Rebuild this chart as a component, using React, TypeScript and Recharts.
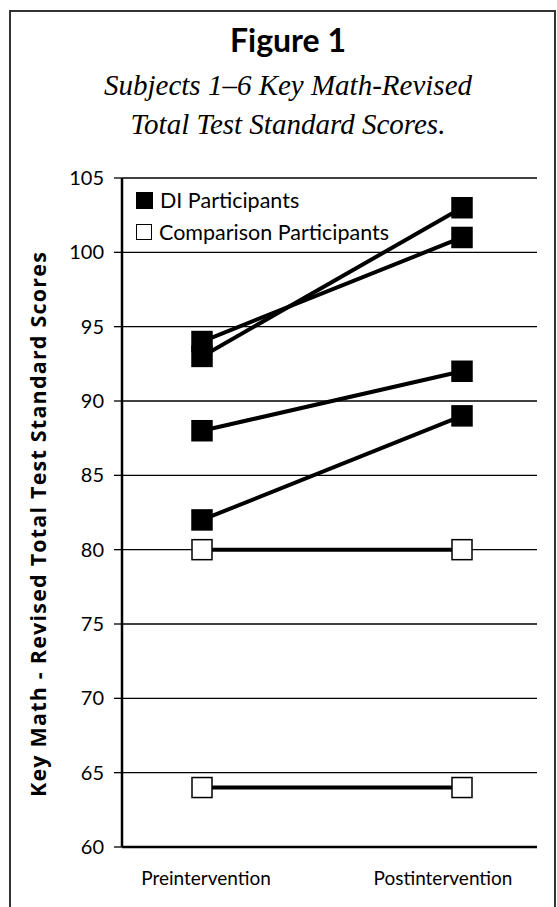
import { CartesianGrid, Legend, Line, LineChart, XAxis, YAxis } from 'recharts'

const phases = ['Preintervention', 'Postintervention']
const diPre = [94, 93, 88, 82]
const diPost = [101, 103, 92, 89]
const cmpPre = [80, 64]
const cmpPost = [80, 64]
const yTicks = [60, 65, 70, 75, 80, 85, 90, 95, 100, 105]
const legendItems = [
  { name: 'DI Participants', filled: true },
  { name: 'Comparison Participants', filled: false },
]

const sans = 'Lato, "Noto Sans", sans-serif'
const wideSans = '"Open Sans", Lato, sans-serif'
const serif = '"Liberation Serif", "DejaVu Serif", serif'

const rows = phases.map((phase, i) => {
  const row: Record<string, string | number> = { phase }
  diPre.forEach((v, k) => { row[`di${k}`] = i === 0 ? v : diPost[k] })
  cmpPre.forEach((v, k) => { row[`cmp${k}`] = i === 0 ? v : cmpPost[k] })
  return row
})

const square = (fill: string) => (props: any) => {
  const { cx, cy, key } = props
  if (cx == null || cy == null) return <g key={key} />
  return <rect key={key} x={cx - 10} y={cy - 10} width={20} height={20} fill={fill} stroke="#000" strokeWidth={1.5} />
}

const tickNudge = [4, -19]
function PhaseTick({ x, y, payload, index }: any) {
  return <text x={x + (tickNudge[index] ?? 0)} y={y} dy="0.71em" textAnchor="middle" fill="#000" fontSize={19} fontFamily={sans}>{payload.value}</text>
}

function LegendBox() {
  return <div style={{ fontFamily: sans, fontSize: 21.5, color: '#000', lineHeight: '31.5px' }}>
    {legendItems.map(item => <div key={item.name} style={{ display: 'flex', alignItems: 'center', gap: 7 }}>
      <i style={{ display: 'inline-block', width: item.filled ? 17 : 14, height: item.filled ? 17 : 14, background: item.filled ? '#000' : '#fff', border: item.filled ? 'none' : '1.5px solid #000' }} />
      <span>{item.name}</span>
    </div>)}
  </div>
}

export default function App() {
  return <div style={{ position: 'absolute', left: 0, top: 0, width: 557, height: 907, overflow: 'hidden', background: '#fff' }}>
    <div style={{ position: 'absolute', left: 9, top: 10, width: 547, height: 960, border: '2px solid #333', boxSizing: 'border-box' }} />
    <div style={{ position: 'absolute', left: 20, width: 536, top: 21, textAlign: 'center', fontFamily: sans, fontWeight: 700, fontSize: 32, lineHeight: '38px', color: '#000' }}>Figure 1</div>
    <div style={{ position: 'absolute', left: 20, width: 536, top: 66, textAlign: 'center', fontFamily: serif, fontStyle: 'italic', fontSize: 29, lineHeight: '39px', color: '#000' }}>
      Subjects 1–6 Key Math-Revised<br />Total Test Standard Scores.
    </div>
    <div style={{ position: 'absolute', left: 0, top: 0 }}>
      <LineChart width={557} height={907} data={rows} margin={{ top: 178, right: 20, bottom: 20, left: 50 }}>
        <CartesianGrid vertical={false} stroke="#000" strokeWidth={1.3} />
        <XAxis dataKey="phase" padding={{ left: 80, right: 75 }} height={40} interval={0} tickSize={0} tickMargin={25} tickLine={false} axisLine={{ stroke: '#000', strokeWidth: 2.5 }} tick={<PhaseTick />} />
        <YAxis type="number" domain={[60, 105]} ticks={yTicks} width={72} tickSize={8} tickMargin={10} tickLine={{ stroke: '#000', strokeWidth: 1.3 }} axisLine={{ stroke: '#000', strokeWidth: 2.5 }} tick={{ fill: '#000', fontSize: 20, fontFamily: sans }}
          label={() => <text x={37} y={524} transform="rotate(-90 37 524)" textAnchor="middle" dominantBaseline="central" fontFamily={wideSans} fontWeight={700} fontSize={21.5} letterSpacing={1.2} fill="#000">Key Math - Revised Total Test Standard Scores</text>} />
        <Legend content={<LegendBox />} layout="vertical" verticalAlign="middle" align="center" wrapperStyle={{ left: 136, top: 185, width: 'auto' }} />
        {cmpPre.map((_, k) => <Line key={`cmp${k}`} dataKey={`cmp${k}`} stroke="#000" strokeWidth={4} dot={square('#fff')} activeDot={false} isAnimationActive={false} legendType="none" />)}
        {diPre.map((_, k) => <Line key={`di${k}`} dataKey={`di${k}`} stroke="#000" strokeWidth={4} dot={square('#000')} activeDot={false} isAnimationActive={false} legendType="none" />)}
      </LineChart>
    </div>
  </div>
}
